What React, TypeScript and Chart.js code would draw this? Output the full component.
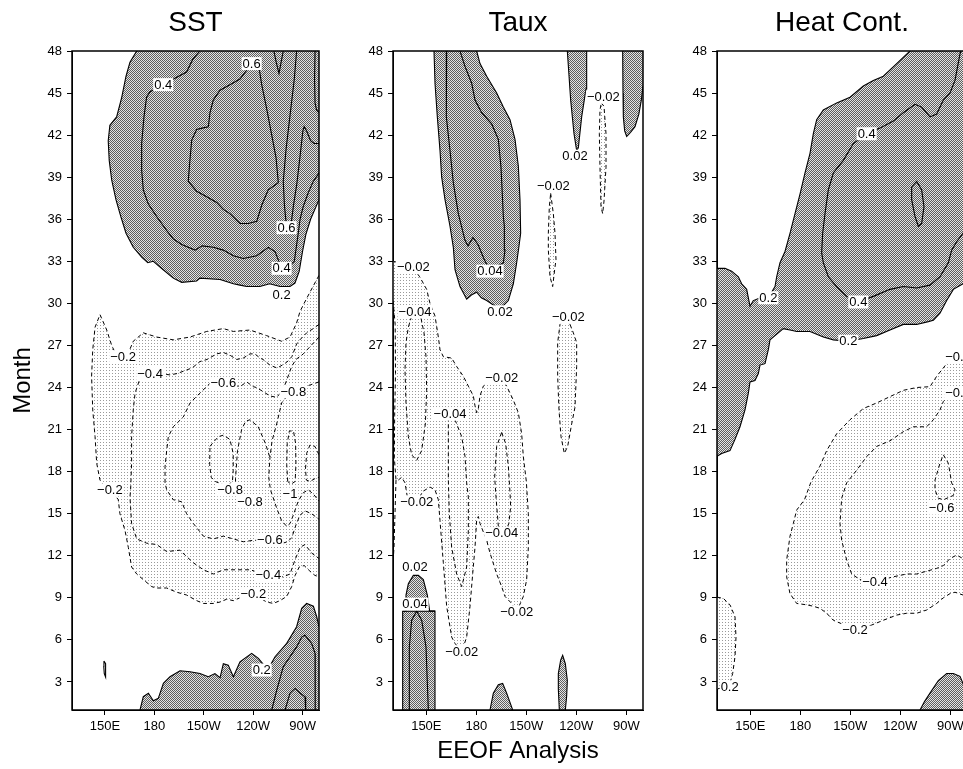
import React, { useEffect, useRef } from "react";
import { Chart, registerables } from "chart.js";

Chart.register(...registerables);

type Pt = [number, number];
type Label = [string, number, number];

const FONT = "'Liberation Sans', Arial, Helvetica, sans-serif";

// ---------- axes ----------
const LON_MIN = 130;
const LON_MAX = 280;
const MONTH_MIN = 1;
const MONTH_MAX = 48;
const X_TICKS = [150, 180, 210, 240, 270];
const X_TICK_LABELS = ["150E", "180", "150W", "120W", "90W"];
const Y_TICKS = [3, 6, 9, 12, 15, 18, 21, 24, 27, 30, 33, 36, 39, 42, 45, 48];
const PANEL_TITLES = ["SST", "Taux", "Heat Cont."];
const Y_TITLE = "Month";
const X_TITLE = "EEOF Analysis";

// ---------- SST contours  [lon (deg E), month] ----------
const SST_P02_TOP: Pt[] = [[169.3,48],[165.2,47.2],[162.8,46.2],[160.2,44.7],[157.1,43.3],[153,42.7],[152,41.6],[152.6,40.2],[154.1,38.8],[156.7,37.4],[159.6,36.2],[162.8,35],[167.2,34.0],[172.3,33.3],[176,32.9],[179.4,33.0],[185.4,32.4],[191.5,31.8],[196.6,31.5],[205.7,31.6],[207.7,31.8],[219.9,31.7],[228,31.4],[232,31.3],[236.1,31.2],[244.1,31.2],[250,31.4],[256.3,31.2],[262.4,31.2],[265.4,31.45],[268,32.3],[270,33.7],[272,34.9],[274.9,36],[278.2,36.9],[280,37.4]];
const SST_P04_TOP: Pt[] = [[207.7,48],[203.3,47.4],[199.6,46.5],[192.5,46.05],[185.4,45.6],[177.4,45.1],[175.3,44.7],[173.7,43.3],[172.3,41.4],[172.3,39.5],[173.3,38.1],[176.3,37.1],[181.4,36.2],[187.5,35.2],[191.5,34.6],[196.6,34.2],[204.7,33.8],[209,34.1],[215.8,34.0],[221.9,33.8],[228,33.4],[234,33.2],[242.2,33.4],[249.2,34.0],[253.3,33.7],[257.3,32.5],[261,32.6],[265,33.0],[267.4,35.0],[268.5,36.0],[270.4,36.9],[273.5,37.9],[276.5,38.7],[280,39.3]];
const SST_P06_LOOP: Pt[] = [[239.1,47.1],[232,46],[225.9,45.6],[219.9,45.2],[215.8,44.5],[213.8,43.6],[212.8,42.6],[209,42.5],[205.7,42.4],[202.7,41.65],[201.6,40.2],[200.6,38.7],[205.7,38],[211.8,37.6],[217.9,37.2],[221.9,36.7],[225.9,36.4],[232,35.7],[237,35.7],[242.2,35.85],[245.2,37],[249.2,38.1],[255.3,38.6],[253.9,40.4],[251.3,42],[248.2,43.9],[245.2,45.6],[243.2,47.1],[239.1,47.1]];
const SST_P06_TONGUE: Pt[] = [[266.4,48],[265,46],[262.5,43.5],[260,41],[258.3,38.7],[259,37],[260.3,35.4],[261.3,35],[263,35.6],[264.4,36.9],[266.5,38.5],[268.5,40.5],[270.2,42.3],[271,42.6],[272.5,42.3],[274.9,41.6],[277,41.4],[280,41.4]];
const SST_P_NOTCH: Pt[] = [[252.6,48],[254,47.2],[255.7,46.4],[257,47.2],[258.3,48]];
const SST_P_CORNER: Pt[] = [[277.6,48],[277.3,46],[277.6,44.3],[278.5,43.8],[280,43.6]];
const SST_P02_BOT: Pt[] = [[171.3,1],[173.3,1.95],[176.4,2.2],[179.4,1.66],[182.4,1.83],[185.5,2.9],[189.5,3.37],[195.6,3.8],[201.7,3.73],[207.7,3.6],[212.8,3.37],[216.8,3.6],[219.9,3.3],[221.9,4.3],[224.9,4.2],[228,3.37],[232,4.44],[239.1,5.04],[243.2,4.68],[248.2,3.97],[250.5,4.2],[253.3,4.8],[260.4,5.75],[266.4,6.94],[269.5,8.25],[272.5,8.6],[276.6,8.4],[278.6,7.65],[280,6.94]];
const SST_P04_BOT: Pt[] = [[251.3,1],[254.3,2.4],[258.3,4.09],[262.4,4.8],[266.4,5.5],[269.5,6.2],[271.5,6.34],[275.5,5.75],[277.6,5.04],[277.8,3],[277.6,1]];
const SST_P06_BOT: Pt[] = [[259.4,1],[262.4,2.2],[265.4,2.54],[268.5,2.2],[271.5,1.95],[271.9,1]];
const SST_P_DOT: Pt[] = [[149.4,4.5],[150.4,4.3],[150.6,3.8],[150.2,3.35],[149.6,3.6],[149.3,4.1],[149.4,4.5]];

const SST_N02: Pt[] = [[280,32.0],[274.5,30.8],[270.5,29.9],[268.4,29.4],[266.4,28.6],[262.4,27.6],[257.3,27.3],[248.2,27.7],[238.1,28.1],[228,28.0],[221.9,28.2],[211.8,28.0],[201.7,27.6],[191.5,27.4],[181.4,27.6],[173.3,27.9],[167.2,27.3],[164,26.4],[161,26.1],[157,26.3],[154.1,27.0],[151.1,28.1],[147,29.2],[144,28.3],[142.6,26.7],[141.9,24.8],[142.6,22.4],[144,20.5],[145,18.6],[147,17.4],[150,16.9],[155,16.5],[158.1,16],[159.1,15],[162.2,13.8],[164.2,12.6],[166.2,11.2],[169.3,10.7],[173.3,10.3],[178.4,9.8],[181.4,9.7],[187.5,9.7],[193.6,9.4],[199.6,9.2],[205.7,8.8],[209.8,8.6],[215.8,8.6],[219.9,8.7],[223.9,8.9],[228,8.8],[234,9.1],[240,9.3],[244,9.0],[248.2,8.7],[252.3,8.6],[256.3,8.8],[260.4,9.1],[263.4,9.8],[265.5,10.6],[268,11.2],[271,11.3],[274.5,10.9],[277.5,10.6],[280,10.5]];
const SST_N04: Pt[] = [[280,28.5],[276.5,28.2],[272.5,27.9],[268.4,27.4],[266.4,27.1],[263.5,26.2],[260.4,25.8],[256.3,25.5],[254.3,25.4],[250.2,25.6],[246,26.0],[244.2,26.1],[241,26.4],[238.1,26.4],[234,26.1],[230,26.0],[226,26.3],[221.9,26.5],[217.9,26.4],[212,26.0],[207.7,25.85],[203,25.4],[199.6,25.25],[194,25.0],[189.5,24.9],[183,25.0],[177.4,25.0],[173,24.9],[171.3,24.65],[168.3,23.6],[167.2,22.4],[166.2,20.5],[166.2,18.6],[165.6,16.7],[165.2,16.2],[166.2,14.3],[169.3,13.2],[175.3,12.9],[181.4,12.8],[187.5,12.3],[195.6,12.4],[198.6,12.05],[203.7,11.5],[209.8,11.0],[215.8,10.7],[221.9,11.0],[232,11.0],[238.1,11.0],[244,10.8],[249.2,10.6],[254,10.5],[258.3,10.5],[262.4,10.7],[265.4,11.7],[268.5,12.6],[271.5,12.8],[275.5,12.2],[280,11.8]];
const SST_N06: Pt[] = [[280,27.6],[276,27.1],[270.5,26.4],[266,26.0],[263.4,25.5],[260.3,24.5],[258,23.8],[254.3,23.3],[250.2,23.4],[246.2,23.7],[242,24.0],[240.1,24.06],[236.1,24.4],[232,24.06],[227,24.2],[221.9,24.3],[213.8,24.3],[207.7,23.6],[201.7,22.9],[197.6,21.9],[191.5,21.2],[188.5,20.5],[187.5,19.5],[186.5,18.35],[186.5,17.2],[187.5,16.7],[191.5,16],[196.6,15.85],[199.6,15],[203.7,14.3],[209.8,13.4],[215.8,13.2],[221.9,13.4],[228,13.2],[234,13.0],[240,13.1],[245,13.1],[250.2,13.1],[255,13.0],[258,12.9],[261,13.0],[263.5,13.3],[266,14.2],[268.5,14.9],[271.5,15.2],[275.5,15.0],[280,14.6]];
const SST_N08: Pt[] = [[280,24.4],[275,24.2],[270,24.0],[264.4,23.7],[260,23.3],[257.3,22.9],[254.3,21.4],[251.5,20.2],[250.2,19.0],[249.5,17.6],[250.5,16.7],[252,16.2],[254.3,15.4],[257.3,14.5],[260.4,14.1],[262.4,14.3],[264.4,14.9],[267.4,15.9],[270.5,16.5],[273.5,16.7],[276.6,16.4],[280,15.9]];
const SST_N08_PEAK: Pt[] = [[229.5,16.3],[229.3,17.5],[230.5,19.5],[233,21],[235.5,21.6],[238.1,21.7],[243.1,21.2],[247.5,20.0],[250.2,19.0]];
const SST_N08_LOOP: Pt[] = [[213.8,19.8],[215.8,20.1],[219,20.5],[221.9,20.6],[225.9,20.3],[227.9,19.3],[227.9,18.1],[227.5,17.4],[225,17.0],[221,17.1],[217,17.3],[214.5,17.6],[213.6,18.5],[213.8,19.8]];
const SST_N10_LOOP: Pt[] = [[261,17.3],[260.4,18.5],[260.7,20],[262,20.9],[264.5,20.9],[265.8,20],[266,18.5],[265.5,17.3],[263,17.1],[261,17.3]];
const SST_N10_EDGE: Pt[] = [[280,19.2],[277.5,19.8],[274.5,19.9],[272.5,19.3],[271.8,18.2],[272.3,17.4],[274.5,17.3],[277.5,17.5],[280,17.6]];

const SST_LABELS: Label[] = [["0.4",185.4,45.6],["0.6",239.1,47.1],["0.6",260.3,35.4],["0.4",257.3,32.5],["0.2",257.3,30.6],["\u22120.2",161,26.2],["\u22120.4",177.4,25.0],["\u22120.6",221.9,24.3],["\u22120.8",264.4,23.7],["\u22120.8",226,16.7],["\u22120.8",238.1,15.85],["\u22121",262.4,16.4],["\u22120.2",153,16.7],["\u22120.6",250.2,13.1],["\u22120.4",249.2,10.6],["\u22120.2",240.1,9.3],["0.2",245.2,3.85]];

// ---------- Taux contours ----------
const TAUX_P02_TOP: Pt[] = [[154.6,48],[155.2,45.7],[156.6,43.3],[158.2,40.9],[159.2,39.0],[161.2,37.4],[164.2,35.5],[166.2,34.0],[167.2,32.4],[170.2,31.2],[174.2,30.3],[177,30.6],[180.2,30.8],[183,30.4],[186.2,30.2],[190,29.9],[194.2,29.6],[199.2,30.2],[202.2,31.4],[204.2,32.9],[205.5,34],[206.6,35.0],[206.2,37.4],[205.2,39.8],[203.2,41.7],[200.2,43.1],[196.2,44.0],[192.2,45.0],[186.2,46.2],[182.2,47.1],[180.2,48]];
const TAUX_P04_TOP: Pt[] = [[162.2,48],[161.8,45.7],[162.2,43.3],[164.2,40.9],[166.2,38.6],[169.2,36.4],[173.2,34.5],[175,34.1],[178,34.7],[181,34.2],[184.5,33.2],[188.2,32.3],[192,32.6],[196.2,32.9],[197.2,33.8],[196.8,35.5],[196.2,36.2],[195.5,38],[194.8,39.7],[193.2,41.7],[189.2,42.8],[183.2,43.6],[179.2,44.5],[177.2,45.7],[173.2,46.9],[170.2,48]];
const TAUX_P02_WEDGE: Pt[] = [[234.6,48],[236.6,44.5],[238.6,42.1],[240.2,40.9],[241.2,41.1],[243.2,43.3],[245.8,45.3],[246.2,48]];
const TAUX_P02_EDGE: Pt[] = [[267.8,48],[268,45],[268.2,43.3],[269,42.3],[270.2,41.9],[272.5,42.2],[275.2,42.6],[277.5,43.5],[279,44.5],[280,45.5]];
const TAUX_P02_BL: Pt[] = [[135.8,1],[135.8,8.05],[137.8,8.05],[137.8,9.2],[139.2,10.0],[142.2,10.6],[145.2,10.6],[148.2,10.3],[150.6,9.2],[152,8.05],[155.2,8.05],[155.2,1]];
const TAUX_P02_BL_BAR: Pt[] = [[135.8,8.05],[155.2,8.05]];
const TAUX_P04_BL: Pt[] = [[140.2,1],[139.8,5.5],[141.2,7.4],[144.2,8.05],[147.2,7.4],[149.8,5.5],[151.2,1]];
const TAUX_P02_BM: Pt[] = [[188.2,1],[190.2,2.2],[193.2,2.8],[195.8,2.9],[198.2,2.2],[201.8,1]];
const TAUX_P02_BR: Pt[] = [[229.8,1],[229.2,2.5],[229.2,3.6],[230.6,4.56],[231.8,4.9],[233.4,4.3],[234.6,3.1],[234.2,2],[233.4,1]];

const TAUX_N02_MAIN: Pt[] = [[130,30.2],[131.3,28.5],[131.5,25],[131,22],[130.8,19],[131.8,17.4],[133.2,17.4],[135.2,17.6],[137.2,17.2],[138.6,16.2],[141,15.9],[144.2,15.85],[148,16.6],[152.2,16.9],[155.2,16.7],[157.2,16.0],[158.2,14.5],[160.2,11.5],[162.2,8.4],[165.2,6.2],[167.2,5.75],[171.2,5.15],[174.2,6.2],[176.2,8.4],[177.8,10.7],[179.2,12.6],[180.2,14.55],[181.2,14.8],[182.2,14.3],[186.2,13.1],[188.2,12.2],[192.2,10.7],[195.2,9.8],[197.2,9.1],[201.2,8.6],[204.2,8.0],[208.2,9.1],[210.2,10.3],[211.2,12.6],[211.2,15.0],[210,17.3],[208.2,19.07],[207.2,20.7],[205.2,22.2],[202.2,23.1],[198.2,24.1],[195.2,24.66],[190,24.4],[186,24.3],[184.2,24.1],[182.2,23.4],[181.2,22.5],[180.2,22.2],[179.2,22.7],[178.2,23.4],[175.2,24.1],[172.2,24.8],[168.2,25.5],[165.2,26.1],[160.2,26.2],[158.2,26.7],[157.2,27.6],[155.2,29.1],[152.2,30.0],[150.2,31.0],[146,31.9],[142.2,32.5],[138,32.7],[134,32.9],[130,33]];
const TAUX_N02_LEFT: Pt[] = [[131.8,17.4],[131.2,15.0],[130.6,12.6],[130,11.5]];
const TAUX_N04_A: Pt[] = [[141.2,29.1],[146.2,29.3],[148.6,27.9],[149.8,26.2],[150.2,23.8],[149.4,21.4],[147.2,19.5],[144.2,18.8],[141.2,19.2],[139.2,20.5],[137.8,22.9],[137.2,25.25],[137.8,27.2],[139.2,28.3],[141.2,29.1]];
const TAUX_N04_B: Pt[] = [[167.2,21.7],[171.2,20.5],[173.2,19.1],[174.2,17.2],[175.2,16.2],[175.2,13.8],[174.2,11.2],[171.2,9.8],[168.2,10.7],[165.2,12.6],[163.8,15.0],[163.2,17.4],[163.2,19],[163.2,21.7],[165.2,22.0],[167.2,21.7]];
const TAUX_N04_C: Pt[] = [[195.2,20.8],[197.6,20.0],[199.2,18.4],[200.2,16.5],[200.6,15.5],[199.5,14.3],[197,13.6],[193.2,14.1],[191.8,16.2],[191,17.6],[192.2,19.8],[195.2,20.8]];
const TAUX_N02_R1: Pt[] = [[224.6,37.85],[226.2,36.4],[227.2,35.0],[227.8,33.1],[227.2,32.6],[225.8,31.2],[224.2,31.9],[223.2,33.8],[223.2,35.0],[223.8,36.9],[224.6,37.85]];
const TAUX_N02_R2: Pt[] = [[236.2,28.5],[238.2,27.9],[240.2,27.2],[240.2,25.5],[239.2,22.6],[237.2,21.4],[234.8,19.8],[232.8,19.3],[230.8,20.5],[229.6,22.4],[228.8,24.8],[228.8,27.2],[230.2,28.5],[233,28.9],[236.2,28.5]];
const TAUX_N02_R3: Pt[] = [[255.0,44.3],[256.6,44.05],[257.8,42.1],[257.8,39.7],[256.6,37.3],[255.8,36.4],[254.8,36.9],[254.2,39.7],[253.8,42.1],[254.2,43.8],[255.0,44.3]];

const TAUX_LABELS: Label[] = [["0.02",239.2,40.5],["\u22120.02",256.2,44.7],["\u22120.02",226.2,38.4],["0.04",188.2,32.3],["0.02",194.2,29.4],["\u22120.02",142.2,32.6],["\u22120.04",143.2,29.4],["\u22120.02",235.2,29.0],["\u22120.02",195.2,24.66],["\u22120.04",164.2,22.1],["\u22120.02",144.2,15.85],["\u22120.04",195.2,13.6],["0.02",143.2,11.2],["0.04",143.2,8.55],["\u22120.02",204.2,8.0],["\u22120.02",171.2,5.15]];

// ---------- Heat content contours ----------
const HEAT_P02_UPPER: Pt[] = [[130,32.5],[134.8,32.5],[138.8,32.3],[142.8,31.9],[144.8,31.4],[147.8,31.0],[149.8,29.8],[151.8,30.2],[156,30.4],[160.8,30.4],[164.8,31.2],[165.8,31.9],[167.8,32.9],[170.8,33.7],[173.8,35.0],[176.8,36.4],[179.8,37.8],[182.8,39.3],[185.8,40.7],[187.8,42.1],[189.8,43.1],[193.8,43.8],[201.8,44.3],[209.8,44.7],[217.8,45.5],[223.8,45.9],[229.8,46.2],[237.8,47.1],[245.8,48]];
const HEAT_P02_LOWER: Pt[] = [[130,19.1],[132.8,19.3],[137.8,19.5],[140.8,20.3],[143.8,21.2],[146.8,22.4],[148.8,23.6],[149.8,24.4],[152.8,24.5],[154.8,25.0],[155.8,25.6],[158.8,25.7],[160.8,26.7],[161.8,27.4],[164.8,27.7],[169.8,28.2],[173.8,28.1],[177.8,28.0],[185.8,28.0],[193.8,27.6],[199.8,27.4],[208.8,27.3],[217.8,27.5],[225.8,27.7],[233.8,28.1],[241.8,28.5],[249.8,28.5],[256.8,28.7],[259.8,28.8],[263.8,29.3],[267.8,30.2],[271.8,31.0],[277.6,31.4],[280,31.7]];
const HEAT_P04: Pt[] = [[276.4,48],[275.8,47.8],[272.8,45.9],[269.8,45.0],[265.8,44.5],[261.8,43.5],[257.8,43.3],[252.8,44.0],[248.8,44.2],[241.8,43.6],[235.8,43.0],[227.8,42.5],[219.8,42.1],[211.8,41.4],[205.8,40.2],[199.8,39.3],[196.8,38.1],[194.8,36.4],[193.4,35.0],[192.8,33.6],[193.8,32.9],[196.8,31.9],[201.8,31.2],[207.8,30.5],[214.8,30.1],[223.8,30.5],[233.8,31.0],[241.8,31.2],[249.8,31.1],[257.8,31.3],[263.8,31.9],[268.8,32.9],[270.8,33.8],[273.8,34.4],[277.6,35.0],[280,35.5]];
const HEAT_P06_LOOP: Pt[] = [[246.8,38.3],[249.8,38.7],[252.8,38.1],[254.2,36.9],[252.8,35.7],[250.8,35.5],[248.8,36.2],[246.8,37.4],[246.8,38.3]];
const HEAT_P02_BR: Pt[] = [[251.8,1],[254.5,1.6],[257.8,2.2],[262.8,3.1],[267.8,3.6],[271.8,3.6],[275.8,3.4],[277.6,2.9],[279,2.2],[280,1.8]];

const HEAT_N02: Pt[] = [[280,26.8],[276,26.5],[272,26.2],[269.8,26.0],[267.8,25.7],[264.5,25.2],[261.8,24.8],[257.8,24.06],[249.8,24.0],[241.8,23.8],[233.8,23.35],[225.8,22.9],[217.8,22.5],[209.8,21.7],[201.8,20.7],[195.8,19.5],[191.8,18.4],[186.5,17.3],[182.5,16.0],[177.8,15.26],[175.8,14.3],[173.8,13.4],[171.8,11.7],[171.8,10.5],[173.8,9.3],[177.8,8.6],[183.8,8.5],[187.8,8.4],[191.8,8.25],[195.8,7.9],[199.8,7.4],[203.8,7.2],[212.8,6.7],[222.8,7.06],[229.8,7.4],[237.8,7.77],[243.8,7.9],[249.8,7.9],[255.8,8.13],[261.8,8.6],[265.8,9.0],[269.8,9.3],[272.8,9.4],[277.6,9.2],[280,9.2]];
const HEAT_N04: Pt[] = [[280,24.2],[276,23.8],[270.8,23.6],[265.8,23.0],[263.8,22.4],[259.8,21.7],[255.8,21.2],[247.8,21.2],[241.8,20.85],[233.8,20.2],[225.8,19.8],[219.8,19.07],[213.8,18.1],[207.8,17.2],[204.8,16.1],[203.8,14.3],[204.8,13.1],[207.8,11.7],[210.8,10.7],[215.8,10.3],[224.8,10.15],[235.8,10.5],[243.8,10.7],[249.8,10.7],[255.8,10.9],[261.8,11.1],[265.8,11.3],[269.8,11.8],[273.8,12.05],[277.6,11.8],[280,11.6]];
const HEAT_N06: Pt[] = [[265.8,19.2],[268.8,18.6],[270.8,17.2],[272.8,16.7],[271.8,16.3],[269.8,16.2],[266,16.0],[262.8,16.1],[260.8,16.7],[260.8,17.4],[261.8,17.8],[263.8,18.6],[265.8,19.2]];
const HEAT_N02_LEFT: Pt[] = [[130,9.05],[133.8,8.96],[137.8,8.5],[140.8,7.65],[141.4,6.2],[140.8,4.8],[139.4,3.6],[138,3.0],[134,2.6],[130,2.5]];

const HEAT_LABELS: Label[] = [["0.4",219.8,42.1],["0.2",160.8,30.4],["0.4",214.8,30.1],["0.2",208.8,27.3],["\u22120.2",274.6,26.2],["\u22120.4",274.6,23.6],["\u22120.6",264.8,15.4],["\u22120.4",224.8,10.15],["\u22120.2",212.8,6.7],["0.2",137.6,2.66]];

// domain corners used to close shaded regions along the frame
const TOP_RIGHT: Pt = [LON_MAX, MONTH_MAX];
const BOTTOM_RIGHT: Pt = [LON_MAX, MONTH_MIN];

interface PanelDef {
  title: string;
  solid: Pt[][];
  dashed: Pt[][];
  posFill: Pt[][];
  negFill: Pt[][];
  labels: Label[];
}

const PANELS: PanelDef[] = [
  {
    title: PANEL_TITLES[0],
    solid: [SST_P02_TOP, SST_P04_TOP, SST_P06_LOOP, SST_P06_TONGUE, SST_P_NOTCH, SST_P_CORNER, SST_P02_BOT, SST_P04_BOT, SST_P06_BOT, SST_P_DOT],
    dashed: [SST_N02, SST_N04, SST_N06, SST_N08, SST_N08_PEAK, SST_N08_LOOP, SST_N10_LOOP, SST_N10_EDGE],
    posFill: [[...SST_P02_TOP, TOP_RIGHT], [...SST_P02_BOT, BOTTOM_RIGHT]],
    negFill: [SST_N02],
    labels: SST_LABELS,
  },
  {
    title: PANEL_TITLES[1],
    solid: [TAUX_P02_TOP, TAUX_P04_TOP, TAUX_P02_WEDGE, TAUX_P02_EDGE, TAUX_P02_BL, TAUX_P02_BL_BAR, TAUX_P04_BL, TAUX_P02_BM, TAUX_P02_BR],
    dashed: [TAUX_N02_MAIN, TAUX_N02_LEFT, TAUX_N04_A, TAUX_N04_B, TAUX_N04_C, TAUX_N02_R1, TAUX_N02_R2, TAUX_N02_R3],
    posFill: [TAUX_P02_TOP, TAUX_P02_WEDGE, [...TAUX_P02_EDGE, TOP_RIGHT], TAUX_P02_BL, TAUX_P02_BM, TAUX_P02_BR],
    negFill: [TAUX_N02_MAIN, TAUX_N02_R1, TAUX_N02_R2, TAUX_N02_R3],
    labels: TAUX_LABELS,
  },
  {
    title: PANEL_TITLES[2],
    solid: [HEAT_P02_UPPER, HEAT_P02_LOWER, HEAT_P04, HEAT_P06_LOOP, HEAT_P02_BR],
    dashed: [HEAT_N02, HEAT_N04, HEAT_N06, HEAT_N02_LEFT],
    posFill: [[...HEAT_P02_UPPER, TOP_RIGHT, ...[...HEAT_P02_LOWER].reverse()], [...HEAT_P02_BR, BOTTOM_RIGHT]],
    negFill: [HEAT_N02, HEAT_N02_LEFT],
    labels: HEAT_LABELS,
  },
];

// canvas placement (layout only)
const LAYOUT = [
  { left: 0, width: 330, axisW: 72, padR: 11, yTitle: true, xTitle: false },
  { left: 330, width: 325, axisW: 63, padR: 12, yTitle: false, xTitle: true },
  { left: 655, width: 320, axisW: 62, padR: 8, yTitle: false, xTitle: false },
];
const H = 769;

function makePattern(ctx: CanvasRenderingContext2D, dark: boolean) {
  const t = document.createElement("canvas");
  const n = dark ? 2 : 3;
  t.width = n;
  t.height = n;
  const c = t.getContext("2d")!;
  if (dark) {
    c.fillStyle = "#e4e4e4";
    c.fillRect(0, 0, 2, 2);
    c.fillStyle = "#5e5e5e";
    c.fillRect(0, 0, 1, 1);
    c.fillRect(1, 1, 1, 1);
  } else {
    c.fillStyle = "#ffffff";
    c.fillRect(0, 0, 3, 3);
    c.fillStyle = "#9a9a9a";
    c.fillRect(1, 1, 1, 1);
  }
  return ctx.createPattern(t, "repeat");
}

const overlayPlugin = {
  id: "contourOverlay",
  afterDatasetsDraw(chart: any, _args: any, opts: any) {
    const { ctx, chartArea: a, scales } = chart;
    const xs = scales.x;
    const ys = scales.y;
    ctx.save();
    ctx.font = `13px ${FONT}`;
    ctx.textAlign = "center";
    ctx.textBaseline = "middle";
    for (const [t, lon, m] of (opts.labels || []) as Label[]) {
      const px = xs.getPixelForValue(lon);
      const py = ys.getPixelForValue(m);
      const w = ctx.measureText(t).width;
      ctx.fillStyle = "#ffffff";
      ctx.fillRect(px - w / 2 - 1, py - 6.5, w + 2, 13);
      ctx.fillStyle = "#000000";
      ctx.fillText(t, px, py + 0.5);
    }
    ctx.strokeStyle = "#000";
    ctx.lineWidth = 1.5;
    ctx.strokeRect(a.left, a.top, a.right - a.left, a.bottom - a.top);
    ctx.restore();
  },
};

function buildConfig(p: PanelDef, l: any, posPat: any, negPat: any) {
  const toXY = (arr: Pt[]) => arr.map(([x, y]) => ({ x, y }));
  const datasets: any[] = [];
  p.posFill.forEach((poly) =>
    datasets.push({ data: toXY(poly), showLine: true, fill: "shape", backgroundColor: posPat, borderColor: "rgba(0,0,0,0)", borderWidth: 0, pointRadius: 0, pointHoverRadius: 0, order: 3 })
  );
  p.negFill.forEach((poly) =>
    datasets.push({ data: toXY(poly), showLine: true, fill: "shape", backgroundColor: negPat, borderColor: "rgba(0,0,0,0)", borderWidth: 0, pointRadius: 0, pointHoverRadius: 0, order: 3 })
  );
  p.solid.forEach((line) =>
    datasets.push({ data: toXY(line), showLine: true, fill: false, borderColor: "#000", borderWidth: 1.1, pointRadius: 0, pointHoverRadius: 0, order: 1 })
  );
  p.dashed.forEach((line) =>
    datasets.push({ data: toXY(line), showLine: true, fill: false, borderColor: "#000", borderWidth: 1, borderDash: [4, 3], pointRadius: 0, pointHoverRadius: 0, order: 1 })
  );

  return {
    type: "scatter",
    data: { datasets },
    plugins: [overlayPlugin],
    options: {
      responsive: false,
      maintainAspectRatio: false,
      animation: false,
      events: [],
      layout: { padding: { left: 0, right: l.padR, top: 0, bottom: 0 } },
      plugins: {
        legend: { display: false },
        tooltip: { enabled: false },
        title: {
          display: true,
          text: p.title,
          fullSize: false,
          color: "#000",
          font: { size: 28, weight: "normal", family: FONT },
          padding: { top: 6.5, bottom: 10.9 },
        },
        contourOverlay: { labels: p.labels },
      },
      scales: {
        x: {
          type: "linear",
          min: LON_MIN,
          max: LON_MAX,
          position: "bottom",
          afterBuildTicks: (s: any) => {
            s.ticks = X_TICKS.map((v) => ({ value: v }));
          },
          afterFit: (s: any) => {
            s.height = 59;
          },
          ticks: {
            callback: (v: number) => {
              const i = X_TICKS.indexOf(v);
              return i >= 0 ? X_TICK_LABELS[i] : "";
            },
            color: "#000",
            font: { size: 13, family: FONT },
            padding: 4,
            autoSkip: false,
            maxRotation: 0,
          },
          grid: { drawOnChartArea: false, drawTicks: true, tickLength: 5, color: "#000" },
          border: { display: true, color: "#000", width: 1 },
          title: {
            display: l.xTitle,
            text: X_TITLE,
            color: "#000",
            font: { size: 24, family: FONT },
            padding: { top: 0, bottom: 3 },
          },
        },
        y: {
          type: "linear",
          min: MONTH_MIN,
          max: MONTH_MAX,
          position: "left",
          afterBuildTicks: (s: any) => {
            s.ticks = Y_TICKS.map((v) => ({ value: v }));
          },
          afterFit: (s: any) => {
            s.width = l.axisW;
          },
          ticks: {
            color: "#000",
            font: { size: 13, family: FONT },
            padding: 5,
            autoSkip: false,
          },
          grid: { drawOnChartArea: false, drawTicks: true, tickLength: 5, color: "#000" },
          border: { display: true, color: "#000", width: 1 },
          title: {
            display: l.yTitle,
            text: Y_TITLE,
            color: "#000",
            font: { size: 24, family: FONT },
            padding: { top: 9, bottom: 0 },
          },
        },
      },
    },
  };
}

export default function App() {
  const r0 = useRef<HTMLCanvasElement>(null);
  const r1 = useRef<HTMLCanvasElement>(null);
  const r2 = useRef<HTMLCanvasElement>(null);
  const refs = [r0, r1, r2];

  useEffect(() => {
    Chart.defaults.font.family = FONT;
    Chart.defaults.color = "#000";
    const charts = PANELS.map((p, i) => {
      const canvas = refs[i].current!;
      const ctx = canvas.getContext("2d")!;
      const posPat = makePattern(ctx, true);
      const negPat = makePattern(ctx, false);
      return new Chart(canvas, buildConfig(p, LAYOUT[i], posPat, negPat) as any);
    });
    return () => charts.forEach((c) => c.destroy());
  }, []);

  return (
    <div style={{ position: "absolute", left: 0, top: 0, width: 963, height: H, overflow: "hidden", background: "#fff" }}>
      {LAYOUT.map((l, i) => (
        <canvas
          key={i}
          ref={refs[i]}
          width={l.width}
          height={H}
          style={{ position: "absolute", left: l.left, top: 0, width: l.width, height: H, display: "block" }}
        />
      ))}
    </div>
  );
}
